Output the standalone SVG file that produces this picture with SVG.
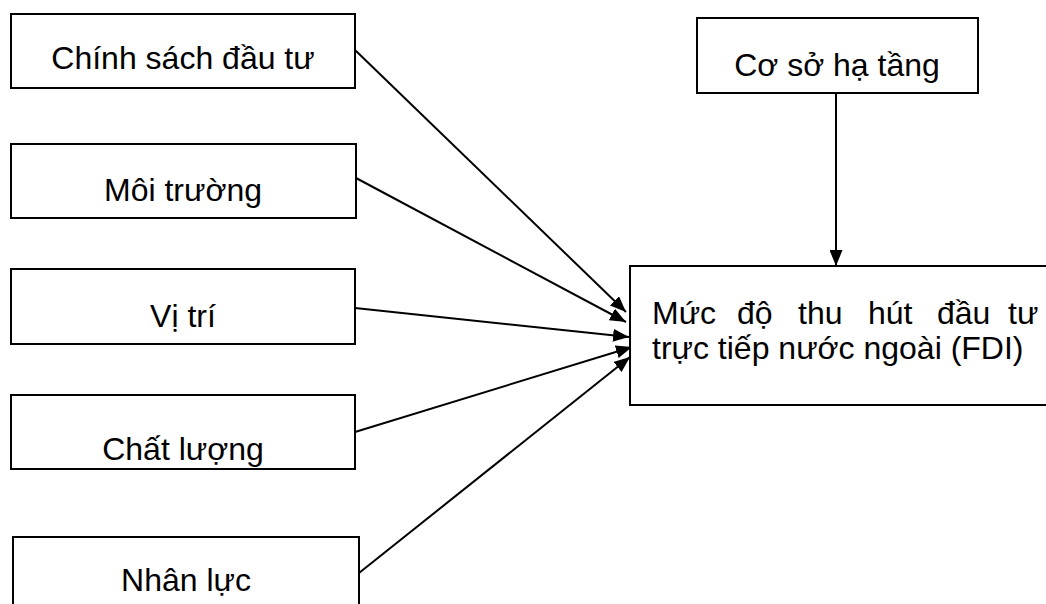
<svg xmlns="http://www.w3.org/2000/svg" width="1046" height="604" viewBox="0 0 1046 604">
<style>
.box{fill:#fff;stroke:#000;stroke-width:2}
.t{font-family:"Liberation Sans",Arial,sans-serif;font-size:32px;fill:#000}
.c{text-anchor:middle}
.ln{stroke:#000;stroke-width:2;fill:none;marker-end:url(#ah)}
</style>
<defs>
<marker id="ah" viewBox="0 0 16 13" refX="16" refY="6.5" markerWidth="16" markerHeight="13" markerUnits="userSpaceOnUse" orient="auto">
<path d="M0,0 L16,6.5 L0,13 Z" fill="#000"/>
</marker>
</defs>
<rect width="1046" height="604" fill="#fff"/>
<g id="connectors">
<line class="ln" x1="355" y1="50" x2="626" y2="312"/>
<line class="ln" x1="356" y1="178" x2="626" y2="322"/>
<line class="ln" x1="355" y1="308" x2="629" y2="337"/>
<line class="ln" x1="355" y1="432" x2="632" y2="347"/>
<line class="ln" x1="359" y1="573" x2="630" y2="357"/>
<line class="ln" x1="836" y1="93" x2="836" y2="266"/>
</g>
<g id="n1"><rect class="box" x="11" y="14" width="344" height="74"/><text class="t c" x="183" y="69">Chính sách đầu tư</text></g>
<g id="n2"><rect class="box" x="11" y="144" width="345" height="74"/><text class="t c" x="183" y="201">Môi trường</text></g>
<g id="n3"><rect class="box" x="11" y="269" width="344" height="75"/><text class="t c" x="183" y="327">Vị trí</text></g>
<g id="n4"><rect class="box" x="11" y="395" width="344" height="74"/><text class="t c" x="183" y="460">Chất lượng</text></g>
<g id="n5"><rect class="box" x="13" y="537" width="346" height="80"/><text class="t c" x="186" y="591">Nhân lực</text></g>
<g id="n6"><rect class="box" x="697" y="18" width="281" height="75"/><text class="t c" x="837" y="76">Cơ sở hạ tầng</text></g>
<g id="n7"><rect class="box" x="630" y="266" width="420" height="139"/>
<text class="t" y="324"><tspan x="652">Mức</tspan><tspan x="737">độ</tspan><tspan x="798">thu</tspan><tspan x="868">hút</tspan><tspan x="937">đầu</tspan><tspan x="1008">tư</tspan></text>
<text class="t" x="652" y="359">trực tiếp nước ngoài (FDI)</text>
</g>
</svg>
